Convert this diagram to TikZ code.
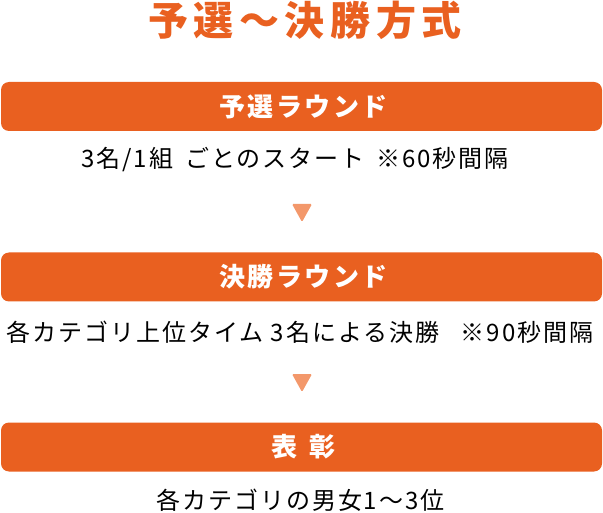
\documentclass[tikz,border=0pt]{standalone}
\usepackage{fontspec}
\newfontfamily\cjk[LetterSpace=8]{Noto Sans CJK JP}
\newfontfamily\cjktitle[LetterSpace=14]{Noto Sans CJK JP Black}
\newfontfamily\cjkbar[LetterSpace=9]{Noto Sans CJK JP Black}
\definecolor{barorange}{RGB}{233,96,32}
\definecolor{triorange}{RGB}{243,152,107}
\begin{document}
\begin{tikzpicture}[x=1pt,y=1pt,
  bar/.style={fill=barorange, rounded corners=8pt, draw=none, minimum width=601pt, minimum height=49pt, inner sep=0pt, text=white, font=\cjkbar\fontsize{26}{26}\selectfont},
  body/.style={inner sep=0pt, text=black, font=\cjk\fontsize{24}{24}\selectfont},
  titletext/.style={inner sep=0pt, text=barorange, font=\cjktitle\fontsize{40}{40}\selectfont},
  tri/.style={fill=triorange, rounded corners=1.2pt}]
\useasboundingbox (0,0) rectangle (603,-513);
\node[titletext] (title) at (305,-20) {予選〜決勝方式};
\node[bar] (b1) at (301.5,-106.5) {\hspace*{4pt}予選ラウンド};
\node[body] (t1) at (295,-160) {3名/1組\hspace{12pt}ごとのスタート\hspace{12pt}※60秒間隔};
\node[bar] (b2) at (301.5,-277) {\hspace*{4pt}決勝ラウンド};
\node[body] (t2) at (300,-332) {各カテゴリ上位タイム 3名による決勝\ \ \ ※90秒間隔};
\node[bar] (b3) at (301.5,-447) {\hspace*{4pt}表\hspace{12pt}彰};
\node[body] (t3) at (300.5,-500) {各カテゴリの男女1〜3位};
\coordinate (a1) at (302,-204);
\coordinate (a2) at (302,-374);
\fill[tri] ([xshift=-10]a1) -- ([xshift=10]a1) -- ([yshift=-18]a1) -- cycle;
\fill[tri] ([xshift=-10]a2) -- ([xshift=10]a2) -- ([yshift=-18]a2) -- cycle;
\end{tikzpicture}
\end{document}
